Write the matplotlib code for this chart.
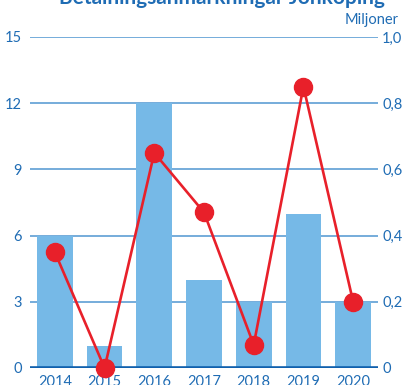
import matplotlib
matplotlib.use("Agg")
import matplotlib.pyplot as plt

# --- Data ---
years = ["2014", "2015", "2016", "2017", "2018", "2019", "2020"]
bar_values = [6, 1, 12, 4, 3, 7, 3]            # left axis
line_values = [0.35, 0.0, 0.65, 0.47, 0.07, 0.85, 0.2]  # right axis, miljoner
left_ticks = [0, 3, 6, 9, 12, 15]
right_ticks = [0, 0.2, 0.4, 0.6, 0.8, 1.0]
right_labels = ["0", "0,2", "0,4", "0,6", "0,8", "1,0"]

# --- Style ---
text_blue = "#1f6cb4"
grid_blue = "#6aa6d8"
bar_blue = "#76b9e7"
zero_blue = "#1060ad"
red = "#e8202a"

plt.rcParams["font.family"] = ["Lato", "DejaVu Sans"]

fig = plt.figure(figsize=(4.03, 3.85), dpi=100)
ax = fig.add_axes([0.0744, 0.0442, 0.8636, 0.8598])
ax2 = ax.twinx()

x = range(len(years))
ax.bar(x, bar_values, width=0.72, color=bar_blue, zorder=2)
for t in left_ticks[1:]:
    ax.axhline(t, color=grid_blue, linewidth=1.3, zorder=1)
ax.axhline(0, color=zero_blue, linewidth=2.6, zorder=3)

ax2.plot(x, line_values, color=red, linewidth=1.9, marker="o",
         markersize=13, zorder=4, clip_on=False)

ax.set_xlim(-0.5, 6.5)
ax.set_ylim(0, 15)
ax2.set_ylim(0, 1.0)

ax.set_yticks(left_ticks)
ax.set_yticklabels([str(t) for t in left_ticks])
ax2.set_yticks(right_ticks)
ax2.set_yticklabels(right_labels)
ax.set_xticks(list(x))
ax.set_xticklabels(years)

for a in (ax, ax2):
    for s in a.spines.values():
        s.set_visible(False)
    a.tick_params(length=0, labelsize=10.5, labelcolor=text_blue)
ax.tick_params(axis="y", pad=6)
ax2.tick_params(axis="y", pad=3)
ax.tick_params(axis="x", pad=5)

# put line axis above bars
ax2.set_zorder(ax.get_zorder() + 1)
ax2.patch.set_visible(False)

fig.text(0.99, 0.93, "Miljoner", color=text_blue, fontsize=10.5,
         ha="right", va="bottom")
fig.text(0.955, 0.99, "Betalningsanmärkningar Jönköping", color=text_blue,
         fontsize=15, fontweight="bold", ha="right", va="baseline")

fig.savefig("out.png", dpi=100)
